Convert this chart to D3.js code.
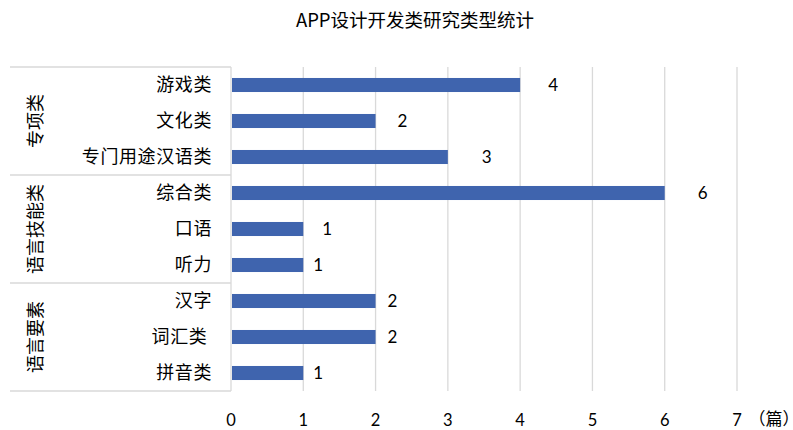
<!DOCTYPE html>
<html><head><meta charset="utf-8">
<script src="https://cdn.jsdelivr.net/npm/d3@7"></script>
<style>
body{margin:0;background:#fff;}
svg text{font-family:"Noto Sans CJK SC","Noto Sans",sans-serif;fill:#000;}
svg text.num{font-family:Lato,"Noto Sans",sans-serif;}
svg text.unit{font-feature-settings:"halt";}
</style></head>
<body><svg id="c" width="793" height="430"></svg>
<script>
const title = "APP设计开发类研究类型统计";
const categories = ["游戏类","文化类","专门用途汉语类","综合类","口语","听力","汉字","词汇类 ","拼音类"];
const values = [4,2,3,6,1,1,2,2,1];
const groups = ["专项类","语言技能类","语言要素"];
const groupSizes = [3,3,3];
const xTicks = [0,1,2,3,4,5,6,7];
const unitLabel = "（篇）";

// layout (not data)
const labelNudge = [28,22,34,33,19,10,12,12,10];

const svg = d3.select("#c");
const L = 231, R = 737, T = 67, B = 391;
const x = d3.scaleLinear().domain([0,7]).range([L,R]);
const y = d3.scaleBand().domain(categories).range([T,B]).paddingInner(0.61).paddingOuter(0.305);
const band = (B-T)/categories.length;

svg.append("text").attr("x",415).attr("y",21).attr("dy","0.35em")
  .attr("text-anchor","middle").style("font-size","18.5px").text(title);

// gridlines
svg.append("g").selectAll("line").data(xTicks.filter(d=>d>0)).join("line")
  .attr("x1",d=>x(d)).attr("x2",d=>x(d)).attr("y1",T).attr("y2",B)
  .attr("stroke","#d9d9d9").attr("stroke-width",1.3);

// left axis line and group separators
svg.append("line").attr("x1",L).attr("x2",L).attr("y1",T).attr("y2",B)
  .attr("stroke","#d9d9d9").attr("stroke-width",1.3);
let acc = 0;
const seps = [0];
groupSizes.forEach(s=>{acc+=s; seps.push(acc);});
svg.append("g").selectAll("line").data(seps).join("line")
  .attr("x1",10).attr("x2",L).attr("y1",d=>T+d*band).attr("y2",d=>T+d*band)
  .attr("stroke","#d9d9d9").attr("stroke-width",1.3);

// group labels
groups.forEach((g,i)=>{
  const cy = T + (seps[i]+seps[i+1])/2*band;
  svg.append("text").attr("transform",`translate(36,${cy}) rotate(-90)`)
    .attr("text-anchor","middle").attr("dy","0.35em").style("font-size","18px").text(g);
});

// category labels
svg.append("g").selectAll("text").data(categories).join("text")
  .attr("x",212).attr("y",d=>y(d)+y.bandwidth()/2).attr("dy","0.35em")
  .attr("text-anchor","end").style("font-size","18px").style("letter-spacing","0.6px")
  .style("white-space","pre").attr("xml:space","preserve").text(d=>d);

// bars
svg.append("g").selectAll("rect").data(categories).join("rect")
  .attr("x",x(0)+1).attr("y",d=>y(d)).attr("height",y.bandwidth())
  .attr("width",(d,i)=>x(values[i])-x(0)-1).attr("fill","#3f64ae");

// value labels
svg.append("g").selectAll("text").data(categories).join("text").attr("class","num")
  .attr("x",(d,i)=>x(values[i])+labelNudge[i]).attr("y",d=>y(d)+y.bandwidth()/2).attr("dy","0.36em")
  .style("font-size","17px").text((d,i)=>values[i]);

// x tick labels
svg.append("g").selectAll("text").data(xTicks).join("text").attr("class","num")
  .attr("x",d=>x(d)).attr("y",426).attr("text-anchor","middle")
  .style("font-size","16.5px").text(d=>d);

svg.append("text").attr("class","unit").attr("x",757).attr("y",425)
  .style("font-size","17px").text(unitLabel);
</script></body></html>
